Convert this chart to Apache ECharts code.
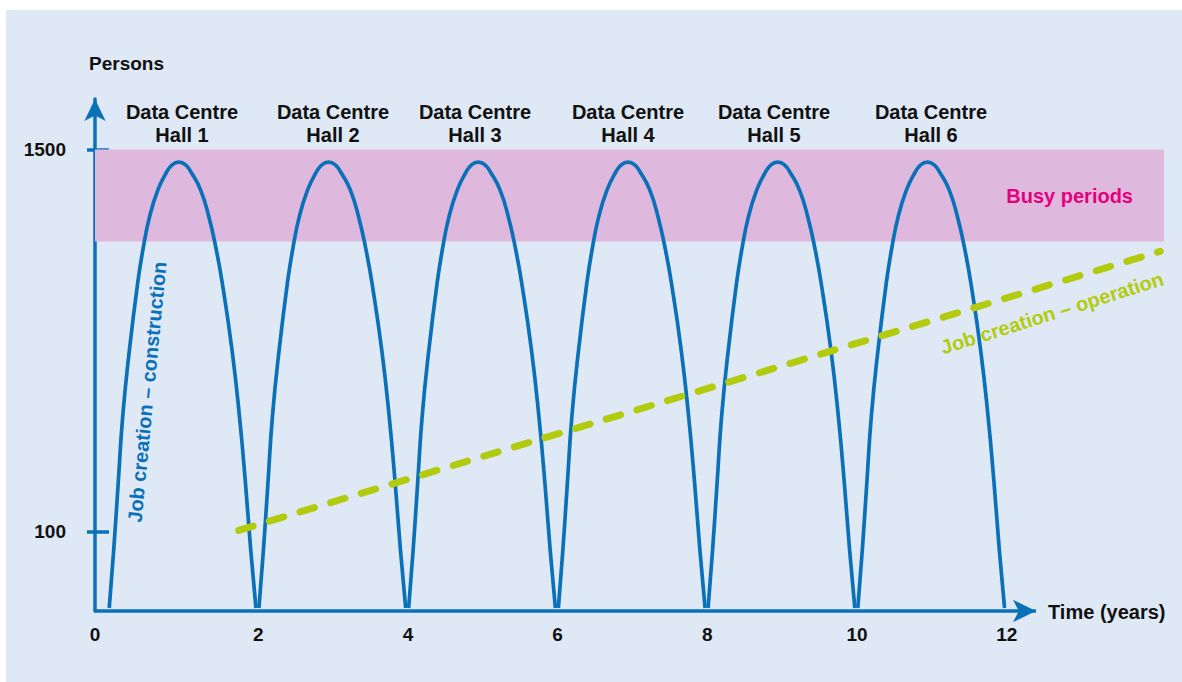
<!DOCTYPE html>
<html>
<head>
<meta charset="utf-8">
<script src="https://cdn.jsdelivr.net/npm/echarts@6/dist/echarts.min.js"></script>
<style>
html,body{margin:0;padding:0;background:#ffffff;}
#c{width:1182px;height:682px;}
</style>
</head>
<body>
<div id="c"></div>
<script>
// ---- data ----
const hallNames = ['Data Centre\nHall 1','Data Centre\nHall 2','Data Centre\nHall 3','Data Centre\nHall 4','Data Centre\nHall 5','Data Centre\nHall 6'];
// persons along each construction arch (same reading for every hall)
const archPersons = [-179, 34, 278, 522, 767, 1011, 1133, 1255, 1352, 1414, 1444, 1454, 1444, 1414, 1352, 1255, 1133, 1011, 767, 522, 278, 34, -179];
const hall1Times = [0.01, 0.07, 0.13, 0.19, 0.28, 0.39, 0.46, 0.55, 0.66, 0.77, 0.85, 0.94, 1.03, 1.11, 1.23, 1.34, 1.44, 1.52, 1.65, 1.75, 1.83, 1.90, 1.97];
const hall2Times = [2.01, 2.07, 2.13, 2.19, 2.28, 2.39, 2.46, 2.55, 2.66, 2.77, 2.85, 2.94, 3.03, 3.11, 3.23, 3.34, 3.44, 3.52, 3.65, 3.75, 3.83, 3.90, 3.97];
const hall3Times = [4.01, 4.07, 4.13, 4.19, 4.28, 4.39, 4.46, 4.55, 4.66, 4.77, 4.85, 4.94, 5.03, 5.11, 5.23, 5.34, 5.44, 5.52, 5.65, 5.75, 5.83, 5.90, 5.97];
const hall4Times = [6.01, 6.07, 6.13, 6.19, 6.28, 6.39, 6.46, 6.55, 6.66, 6.77, 6.85, 6.94, 7.03, 7.11, 7.23, 7.34, 7.44, 7.52, 7.65, 7.75, 7.83, 7.90, 7.97];
const hall5Times = [8.01, 8.07, 8.13, 8.19, 8.28, 8.39, 8.46, 8.55, 8.66, 8.77, 8.85, 8.94, 9.03, 9.11, 9.23, 9.34, 9.44, 9.52, 9.65, 9.75, 9.83, 9.90, 9.97];
const hall6Times = [10.01, 10.07, 10.13, 10.19, 10.28, 10.39, 10.46, 10.55, 10.66, 10.77, 10.85, 10.94, 11.03, 11.11, 11.23, 11.34, 11.44, 11.52, 11.65, 11.75, 11.83, 11.90, 11.97];
// job creation - operation (straight dashed trend)
const operationTimes = [1.74, 14.05];
const operationPersons = [105, 1127];
// busy periods band
const busyFrom = 1163;
const busyTo = 1500;
// axes
const xMin = -0.18, xMax = 14.10, xArrowEnd = 12.39;
const yMin = -190, yMax = 1685;
const xTickValues = [-0.18, 2, 4, 6, 8, 10, 12];
const xTickLabels = ['0', '2', '4', '6', '8', '10', '12'];
const yTickValues = [100, 1500];
const yTickLabels = ['100', '1500'];

// ---- styling ----
const BLUE = '#0a71b9';
const GREEN = '#b3cb0e';
const FONT = 'Liberation Sans, Arial, Helvetica, sans-serif';

const hallTimes = [hall1Times, hall2Times, hall3Times, hall4Times, hall5Times, hall6Times];
const archSeries = hallTimes.map((times, i) => ({
  name: hallNames[i].replace('\n', ' '),
  type: 'line',
  data: times.map((t, j) => [t, archPersons[j]]),
  showSymbol: false,
  smooth: 0.5,
  lineStyle: { color: BLUE, width: 3.7 },
  z: 3,
  silent: true
}));

const chart = echarts.init(document.getElementById('c'), null, { renderer: 'svg' });

const hallLabelX = [182, 333, 475, 628, 774, 931];

const graphics = [
  { type: 'rect', shape: { x: 6, y: 10, width: 1176, height: 672 }, style: { fill: '#dfe9f5' }, z: -100, silent: true },
  { type: 'text', x: 89, y: 63, style: { text: 'Persons', font: 'bold 19px ' + FONT, fill: '#111', textVerticalAlign: 'middle' }, z: 10 },
  { type: 'text', x: 1048, y: 612, style: { text: 'Time (years)', font: 'bold 20px ' + FONT, fill: '#111', textVerticalAlign: 'middle' }, z: 10 },
  { type: 'text', x: 147, y: 392, rotation: 84.5 * Math.PI / 180,
    style: { text: 'Job creation – construction', font: 'bold 20px ' + FONT, fill: BLUE, textAlign: 'center', textVerticalAlign: 'middle' }, z: 10 },
  { type: 'text', x: 1052, y: 313, rotation: 17.5 * Math.PI / 180,
    style: { text: 'Job creation – operation', font: 'bold 20px ' + FONT, fill: GREEN, textAlign: 'center', textVerticalAlign: 'middle' }, z: 10 }
].concat(hallNames.map((n, i) => ({
  type: 'text', x: hallLabelX[i], y: 123,
  style: { text: n, font: 'bold 20px ' + FONT, fill: '#111', textAlign: 'center', textVerticalAlign: 'middle', lineHeight: 23 },
  z: 10
})));

const option = {
  backgroundColor: '#ffffff',
  animation: false,
  textStyle: { fontFamily: FONT },
  grid: { left: 95, right: 18, top: 99, bottom: 71, containLabel: false },
  xAxis: {
    type: 'value', min: xMin, max: xMax,
    axisLine: { show: false, onZero: false },
    axisTick: { show: false },
    splitLine: { show: false },
    axisLabel: {
      customValues: xTickValues,
      formatter: (v) => { const k = xTickValues.indexOf(v); return k >= 0 ? xTickLabels[k] : ''; },
      color: '#111', fontSize: 19, fontWeight: 'bold', fontFamily: FONT, margin: 14
    }
  },
  yAxis: [{
    type: 'value', min: yMin, max: yMax,
    axisLine: { show: true, onZero: false, lineStyle: { color: BLUE, width: 3.5 }, symbol: ['none', 'arrow'], symbolSize: [16, 22] },
    axisTick: { show: true, customValues: yTickValues, length: 8, lineStyle: { color: BLUE, width: 3.5 } },
    splitLine: { show: false },
    axisLabel: {
      customValues: yTickValues,
      formatter: (v) => { const k = yTickValues.indexOf(v); return k >= 0 ? yTickLabels[k] : ''; },
      color: '#111', fontSize: 19, fontWeight: 'bold', fontFamily: FONT, margin: 29
    }
  }, {
    type: 'value', min: yMin, max: yMax, position: 'left', offset: 0,
    axisLine: { show: false, onZero: false },
    axisTick: { show: true, inside: true, customValues: yTickValues, length: 14, lineStyle: { color: BLUE, width: 3.5 } },
    axisLabel: { show: false },
    splitLine: { show: false }
  }],
  graphic: graphics,
  series: [
    {
      name: 'Busy periods', type: 'line', data: [], z: 1, silent: true,
      markArea: {
        silent: true,
        itemStyle: { color: '#dfb9dd' },
        label: { show: true, position: 'insideRight', distance: 31, color: '#e5007d', fontSize: 20, fontWeight: 'bold', fontFamily: FONT },
        data: [[{ name: 'Busy periods', coord: [xMin, busyTo] }, { coord: [xMax, busyFrom] }]]
      }
    },
    ...archSeries,
    {
      name: 'Job creation – operation', type: 'line',
      data: operationTimes.map((t, i) => [t, operationPersons[i]]),
      showSymbol: false, z: 4, silent: true,
      lineStyle: { color: GREEN, width: 7, type: [15, 17], cap: 'round' }
    },
    {
      name: 'x axis', type: 'line', data: [], z: 6, clip: false, silent: true,
      markLine: {
        silent: true,
        symbol: ['none', 'arrow'], symbolSize: [17, 23],
        label: { show: false },
        lineStyle: { color: BLUE, width: 3.5, type: 'solid' },
        data: [[{ coord: [xMin, yMin] }, { coord: [xArrowEnd, yMin] }]]
      }
    }
  ]
};
chart.setOption(option);
</script>
</body>
</html>
